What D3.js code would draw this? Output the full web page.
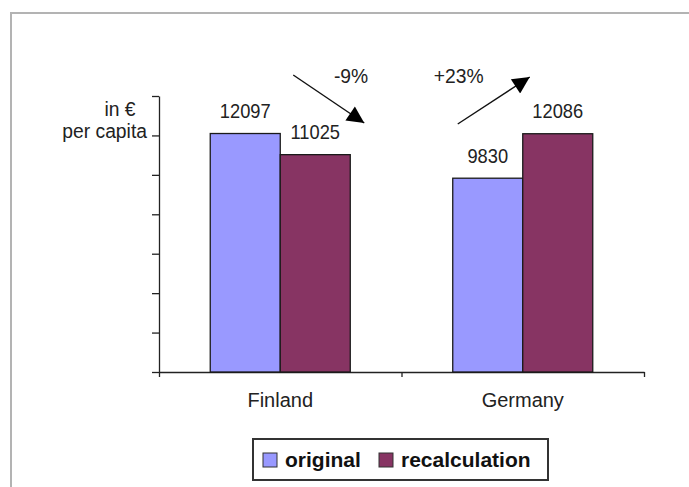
<!DOCTYPE html>
<html>
<head>
<meta charset="utf-8">
<script src="https://cdn.jsdelivr.net/npm/d3@7"></script>
<style>
  body { margin: 0; background: #fff; }
  text { font-family: "Liberation Sans", Arial, sans-serif; fill: #222; }
</style>
</head>
<body>
<div id="chart"></div>
<script>
// data
const countries = ["Finland", "Germany"];
const seriesNames = ["original", "recalculation"];
const original = [12097, 9830];
const recalculation = [11025, 12086];
const changes = ["-9%", "+23%"];
const colors = ["#9999ff", "#873463"];

const rows = countries.map((c, i) => ({
    country: c,
    values: [
        {key: seriesNames[0], value: original[i]},
        {key: seriesNames[1], value: recalculation[i]}
    ]
}));

const W = 689, H = 487;
const margins = {top: 96, right: 45, bottom: 115, left: 159};
const plotBottom = H - margins.bottom; // 372

const svg = d3.select("#chart")
    .append("svg")
        .attr("width", W)
        .attr("height", H);

svg.append("rect")
    .attr("width", W).attr("height", H)
    .attr("fill", "#fff");

// outer frame of the chart area (runs off the right & bottom)
svg.append("rect")
    .attr("x", 11).attr("y", 13)
    .attr("width", 720).attr("height", 520)
    .attr("fill", "none")
    .attr("stroke", "#b3b3b3")
    .attr("stroke-width", 2);

// scales
const x0 = d3.scaleBand()
    .domain(countries)
    .range([margins.left, W - margins.right])
    .paddingInner(0)
    .paddingOuter(0);

const x1 = d3.scaleBand()
    .domain(seriesNames)
    .range([0, x0.bandwidth()])
    .paddingInner(0)
    .paddingOuter(0.732);

const y = d3.scaleLinear()
    .domain([0, 14000])
    .range([plotBottom, margins.top]);

const color = d3.scaleOrdinal().domain(seriesNames).range(colors);

// y axis (no labels)
svg.append("g")
    .attr("transform", `translate(${margins.left},0)`)
    .call(d3.axisLeft(y).ticks(7).tickFormat("").tickSize(7).tickSizeOuter(0))
    .call(g => g.select(".domain").attr("stroke", "#222").attr("stroke-width", 1.3))
    .call(g => g.selectAll(".tick line").attr("stroke", "#222").attr("stroke-width", 1.3));

// x axis, ticks between categories
const xTicks = countries.map(c => x0(c)).concat([x0.range()[1]]);
svg.append("g")
    .attr("transform", `translate(0,${plotBottom})`)
    .call(d3.axisBottom(d3.scaleLinear().domain(x0.range()).range(x0.range()))
        .tickValues(xTicks).tickFormat("").tickSize(5).tickSizeOuter(0))
    .call(g => g.select(".domain").attr("stroke", "#222").attr("stroke-width", 1.3))
    .call(g => g.selectAll(".tick line").attr("stroke", "#222").attr("stroke-width", 1.3));

// category labels
svg.append("g")
    .selectAll("text")
    .data(countries)
    .join("text")
        .attr("x", d => x0(d) + x0.bandwidth() / 2)
        .attr("y", plotBottom + 35)
        .attr("text-anchor", "middle")
        .style("font-size", "20px")
        .text(d => d);

// bars
const groups = svg.append("g")
    .selectAll("g")
    .data(rows)
    .join("g")
        .attr("transform", d => `translate(${x0(d.country)},0)`);

groups.selectAll("rect")
    .data(d => d.values)
    .join("rect")
        .attr("x", d => x1(d.key))
        .attr("y", d => y(d.value))
        .attr("width", x1.bandwidth())
        .attr("height", d => plotBottom - y(d.value))
        .attr("fill", d => color(d.key))
        .attr("stroke", "#1a1a1a")
        .attr("stroke-width", 1.3);

// value labels
groups.selectAll("text")
    .data(d => d.values)
    .join("text")
        .attr("transform", d => `translate(${x1(d.key) + x1.bandwidth() / 2},${y(d.value) - 15.5}) scale(0.87,1)`)
        .attr("text-anchor", "middle")
        .style("font-size", "21px")
        .text(d => d.value);

// y unit label
svg.append("text")
    .attr("transform", "translate(120,116) scale(0.92,1)")
    .attr("text-anchor", "middle")
    .style("font-size", "21px")
    .text("in €");
svg.append("text")
    .attr("transform", "translate(147,138) scale(0.92,1)")
    .attr("text-anchor", "end")
    .style("font-size", "21px")
    .text("per capita");

// change arrows
svg.append("defs").append("marker")
    .attr("id", "head")
    .attr("viewBox", "0 0 10 10")
    .attr("refX", 10).attr("refY", 5)
    .attr("markerWidth", 19).attr("markerHeight", 17)
    .attr("markerUnits", "userSpaceOnUse")
    .attr("orient", "auto")
  .append("path")
    .attr("d", "M0,0L10,5L0,10Z")
    .attr("fill", "#000");

rows.forEach((r, i) => {
    const gx = x0(r.country) + x1(seriesNames[0]);
    const down = recalculation[i] < original[i];
    const a = down
        ? {x1: gx + 83, y1: 75, x2: gx + 154, y2: 123}
        : {x1: gx + 5, y1: 124, x2: gx + 77, y2: 77};
    svg.append("line")
        .attr("x1", a.x1).attr("y1", a.y1)
        .attr("x2", a.x2).attr("y2", a.y2)
        .attr("stroke", "#111")
        .attr("stroke-width", 1.4)
        .attr("marker-end", "url(#head)");
    svg.append("text")
        .attr("transform", `translate(${down ? gx + 158 : gx - 19},83) scale(0.92,1)`)
        .attr("text-anchor", down ? "end" : "start")
        .style("font-size", "21px")
        .text(changes[i]);
});

// legend
const legend = svg.append("g")
    .attr("transform", "translate(253,439)");

legend.append("rect")
    .attr("width", 295).attr("height", 41)
    .attr("fill", "#fff")
    .attr("stroke", "#333")
    .attr("stroke-width", 2);

const legendX = [10, 126];
const items = legend.selectAll("g")
    .data(seriesNames)
    .join("g")
        .attr("transform", (d, i) => `translate(${legendX[i]},14)`);

items.append("rect")
    .attr("width", 14).attr("height", 14)
    .attr("fill", d => color(d))
    .attr("stroke", "#333")
    .attr("stroke-width", 1);

items.append("text")
    .attr("x", 22).attr("y", 14)
    .style("font-size", "21px")
    .style("font-weight", "bold")
    .style("fill", "#111")
    .text(d => d);
</script>
</body>
</html>
